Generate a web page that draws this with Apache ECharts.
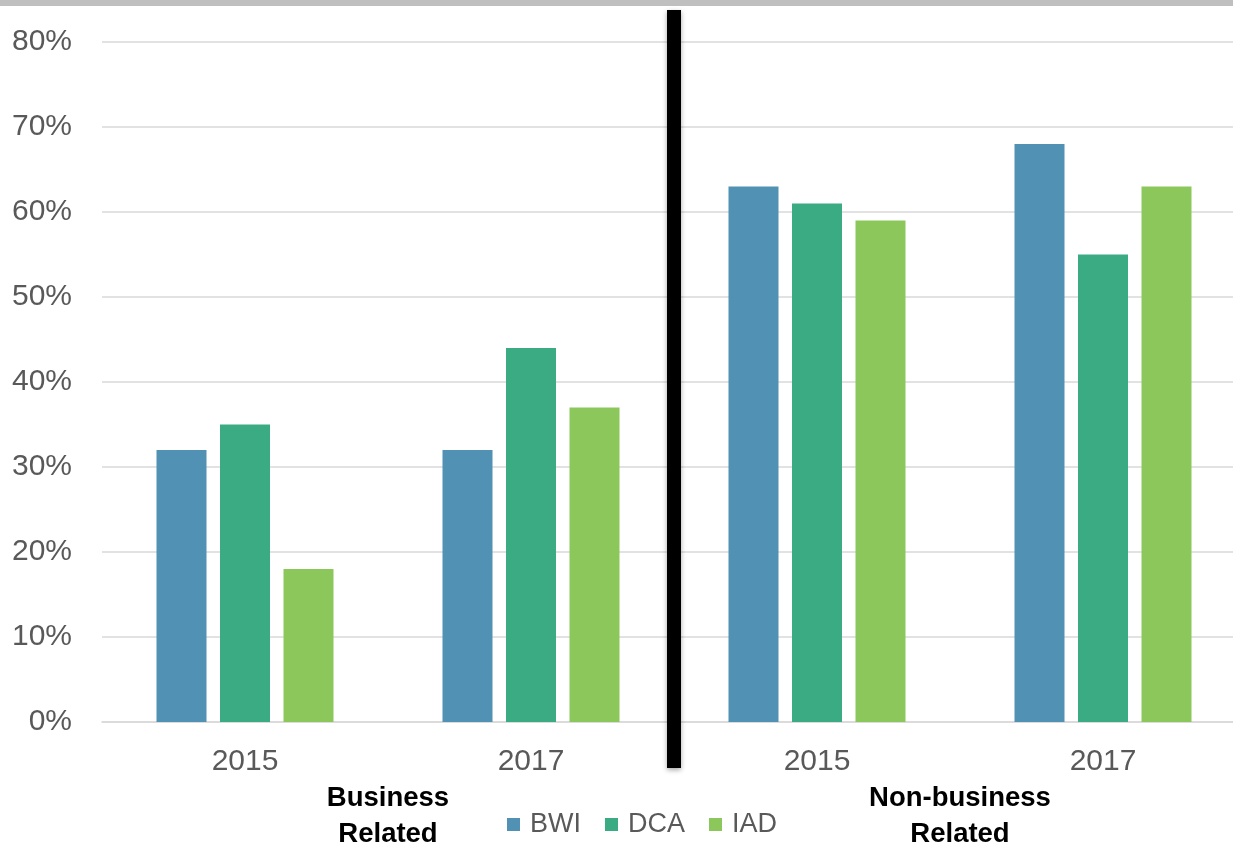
<!DOCTYPE html>
<html>
<head>
<meta charset="utf-8">
<script src="https://cdn.jsdelivr.net/npm/echarts@6/dist/echarts.min.js"></script>
<style>
html,body{margin:0;padding:0;background:#fff;}
#chart{width:1233px;height:847px;}
</style>
</head>
<body>
<div id="chart"></div>
<script>
var categories = ['2015', '2017', '2015', '2017'];
var groupLabels = ['Business\nRelated', 'Non-business\nRelated'];
var seriesNames = ['BWI', 'DCA', 'IAD'];
var bwi = [32, 32, 63, 68];
var dca = [35, 44, 61, 55];
var iad = [18, 37, 59, 63];
var yTicks = [0, 10, 20, 30, 40, 50, 60, 70, 80];
var colors = ['#5091b4', '#3bab83', '#8bc75b'];

var chart = echarts.init(document.getElementById('chart'), null, {renderer: 'canvas'});
var valueSets = [bwi, dca, iad];
var series = seriesNames.map(function (n, i) {
  return {
    name: n,
    type: 'bar',
    data: valueSets[i],
    barWidth: 50,
    barGap: '27%',
    itemStyle: {color: colors[i]}
  };
});
var axisFont = '"Liberation Sans", Arial, sans-serif';
chart.setOption({
  animation: false,
  grid: {left: 102, top: 42, right: -13, bottom: 125, containLabel: false, outerBoundsMode: 'none'},
  legend: {
    data: seriesNames,
    left: 502,
    top: 806,
    icon: 'rect',
    itemWidth: 13,
    itemHeight: 13,
    itemGap: 24,
    textStyle: {fontFamily: axisFont, fontSize: 27, color: '#595959', padding: [0, 0, 0, 5]}
  },
  xAxis: [{
    type: 'category',
    data: categories,
    axisLine: {show: true, lineStyle: {color: '#d9d9d9', width: 1.5}},
    axisTick: {show: false},
    axisLabel: {fontFamily: axisFont, fontSize: 30, color: '#595959', margin: 25}
  }, {
    type: 'category',
    data: groupLabels,
    position: 'bottom',
    offset: 52,
    axisLine: {show: false},
    axisTick: {show: false},
    axisLabel: {fontFamily: axisFont, fontSize: 27.5, fontWeight: 'bold', color: '#000', lineHeight: 36, margin: 6}
  }],
  yAxis: {
    type: 'value',
    min: yTicks[0],
    max: yTicks[yTicks.length - 1],
    interval: 10,
    axisLine: {show: false},
    axisTick: {show: false},
    splitLine: {lineStyle: {color: '#d9d9d9', width: 1.5}},
    axisLabel: {fontFamily: axisFont, fontSize: 30, color: '#595959', margin: 30, formatter: '{value}%'}
  },
  series: series
});

var xa = chart.convertToPixel({xAxisIndex: 0}, 1);
var xb = chart.convertToPixel({xAxisIndex: 0}, 2);
var sepX = (xa + xb) / 2;
chart.setOption({
  graphic: [
    {type: 'rect', z: 100, left: 0, top: 0, shape: {x: 0, y: 0, width: 1233, height: 6}, style: {fill: '#bfbfbf'}},
    {type: 'rect', z: 100, shape: {x: sepX - 7, y: 10, width: 14, height: 758},
     style: {fill: '#000', shadowBlur: 5, shadowColor: 'rgba(0,0,0,0.35)', shadowOffsetY: 2}}
  ]
});
</script>
</body>
</html>
